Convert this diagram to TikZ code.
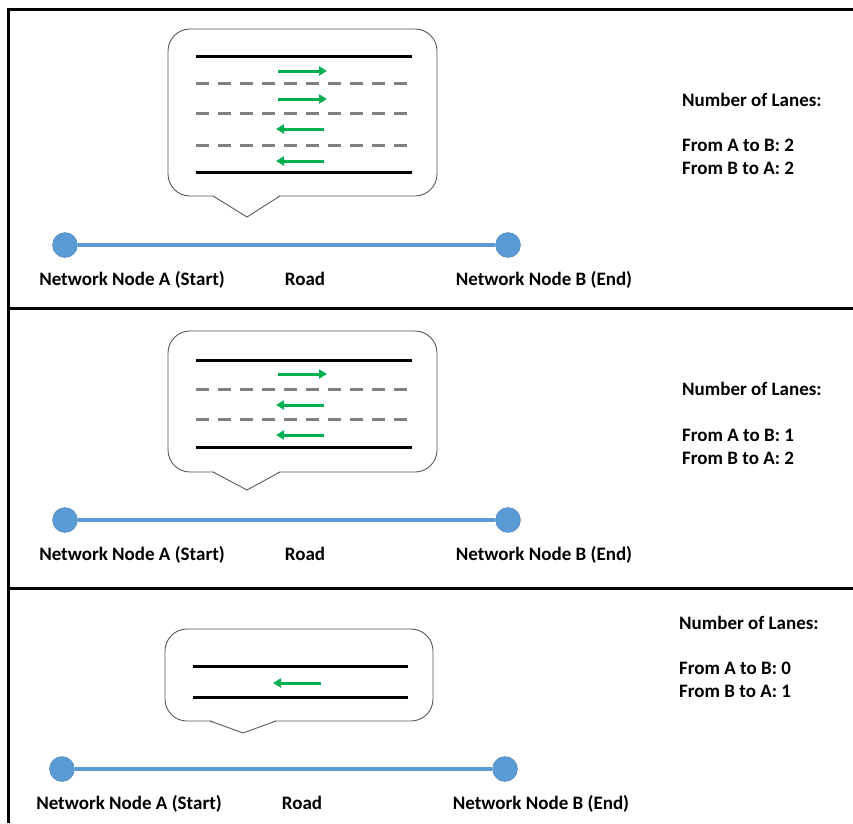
\documentclass[tikz,border=0pt]{standalone}
\usepackage{fontspec}
\setmainfont{Carlito}
\usetikzlibrary{arrows.meta}
\definecolor{roadblue}{HTML}{5B9BD5}
\definecolor{lanegreen}{HTML}{00B050}
\definecolor{dashgray}{HTML}{808080}
\definecolor{bubblegray}{HTML}{595959}
\tikzset{
  frameline/.style={line width=3pt,black},
  edgeline/.style={line width=3pt,black},
  laneline/.style={line width=3pt,dashgray,dash pattern=on 13pt off 9pt},
  fwd/.style={line width=3pt,lanegreen,-{Triangle[length=8pt,width=9pt]}},
  bubble/.style={draw=bubblegray,line width=0.9pt,fill=white},
  endpoint/.style={circle,fill=roadblue,draw=roadblue!85!black,line width=0.4pt,minimum size=25pt,inner sep=0pt},
  roadline/.style={line width=4.5pt,roadblue},
  lbl/.style={font=\fontsize{19}{22}\selectfont\bfseries,inner sep=0pt,anchor=base},
  info/.style={font=\fontsize{19}{22}\selectfont\bfseries,inner sep=0pt,anchor=base west},
}
\newcommand{\callout}[7]{% left, right, top, bottom, tail-left, tail-right, tip (x,y)
  \draw[bubble,rounded corners=22pt] (#1,#3) rectangle (#2,#4);
  \fill[white] (#5,#4-1) -- (#6,#4-1) -- #7 -- cycle;
  \draw[bubblegray,line width=0.9pt] (#5,#4) -- #7 -- (#6,#4);
}
\begin{document}
\begin{tikzpicture}[x=1pt,y=-1pt]
\useasboundingbox (0,0) rectangle (853,823);

% frame and panel dividers
\draw[frameline] (8,823) -- (8,9) -- (853,9);
\draw[frameline] (8,308) -- (853,308);
\draw[frameline] (8,588) -- (853,588);

% ---------- panel 1: two lanes each way ----------
\callout{168}{437}{29}{196}{213}{280}{(247,217)}
\draw[edgeline] (196,56) -- (412,56);
\draw[edgeline] (196,172) -- (412,172);
\draw[laneline] (196,83) -- (410,83);
\draw[laneline] (196,113) -- (410,113);
\draw[laneline] (196,145) -- (410,145);
\draw[fwd] (278,71) -- (327,71);
\draw[fwd] (278,99) -- (327,99);
\draw[fwd] (324,129) -- (276,129);
\draw[fwd] (324,161) -- (276,161);

\node[endpoint] (A1) at (65,245) {};
\node[endpoint] (B1) at (508,245) {};
\draw[roadline] (A1) -- (B1);
\node[lbl] (la1) at (132,285.5) {Network Node A (Start)};
\node[lbl] (lr1) at (305,285.5) {Road};
\node[lbl] (lb1) at (544,285.5) {Network Node B (End)};
\node[info] (n1) at (682,106) {Number of Lanes:};
\node[info] (ab1) at (682,151) {From A to B: 2};
\node[info] (ba1) at (682,174) {From B to A: 2};

% ---------- panel 2: one lane A to B, two lanes B to A ----------
\callout{168}{437}{331}{472}{213}{280}{(247,490)}
\draw[edgeline] (196,360) -- (412,360);
\draw[edgeline] (196,447) -- (412,447);
\draw[laneline] (196,389) -- (410,389);
\draw[laneline] (196,419) -- (410,419);
\draw[fwd] (278,374) -- (327,374);
\draw[fwd] (324,405) -- (276,405);
\draw[fwd] (324,435) -- (276,435);

\node[endpoint] (A2) at (65,520) {};
\node[endpoint] (B2) at (508,520) {};
\draw[roadline] (A2) -- (B2);
\node[lbl] (la2) at (132,560.5) {Network Node A (Start)};
\node[lbl] (lr2) at (305,560.5) {Road};
\node[lbl] (lb2) at (544,560.5) {Network Node B (End)};
\node[info] (n2) at (682,395) {Number of Lanes:};
\node[info] (ab2) at (682,441) {From A to B: 1};
\node[info] (ba2) at (682,464) {From B to A: 2};

% ---------- panel 3: one lane B to A ----------
\callout{165}{433}{629}{721}{210}{276}{(243,733)}
\draw[edgeline] (193,666) -- (408,666);
\draw[edgeline] (193,697) -- (408,697);
\draw[fwd] (321,683) -- (273,683);

\node[endpoint] (A3) at (62,769) {};
\node[endpoint] (B3) at (505,769) {};
\draw[roadline] (A3) -- (B3);
\node[lbl] (la3) at (129,809.5) {Network Node A (Start)};
\node[lbl] (lr3) at (302,809.5) {Road};
\node[lbl] (lb3) at (541,809.5) {Network Node B (End)};
\node[info] (n3) at (679,629) {Number of Lanes:};
\node[info] (ab3) at (679,674) {From A to B: 0};
\node[info] (ba3) at (679,697) {From B to A: 1};
\end{tikzpicture}
\end{document}
